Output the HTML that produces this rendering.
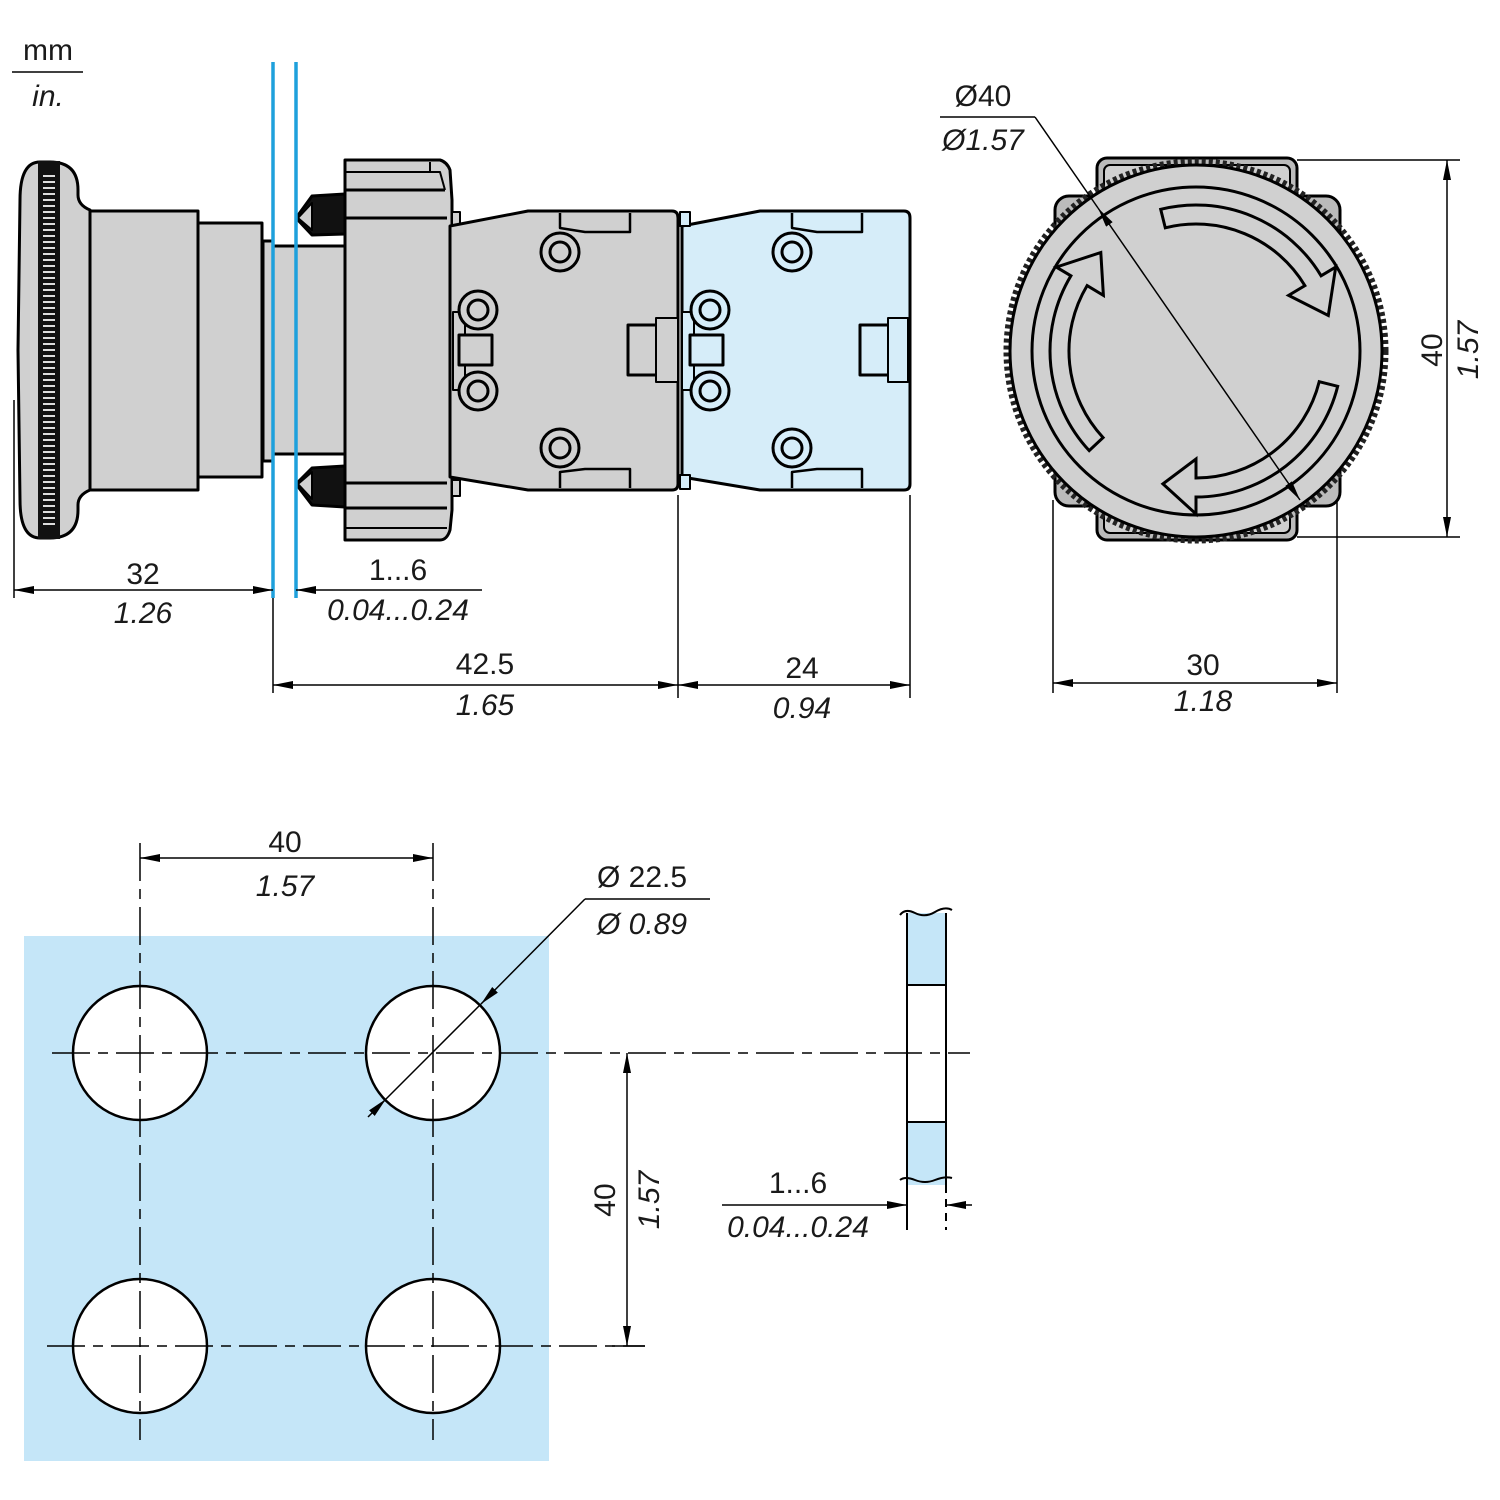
<!DOCTYPE html>
<html><head><meta charset="utf-8"><style>
html,body{margin:0;padding:0;background:#fff}
svg{display:block}
text{font-family:"Liberation Sans",sans-serif;font-size:30px;fill:#1a1a1a}
.i{font-style:italic}
</style></head><body>
<svg width="1500" height="1500" viewBox="0 0 1500 1500" xmlns="http://www.w3.org/2000/svg">
<defs>
<marker id="ar" viewBox="0 0 20 8" refX="20" refY="4" markerWidth="20" markerHeight="8" markerUnits="userSpaceOnUse" orient="auto-start-reverse"><path d="M0,0 L20,4 L0,8 Z" fill="#000"/></marker>
</defs>

<text x="48" y="60" text-anchor="middle">mm</text>
<line x1="12" y1="72" x2="83" y2="72" stroke="#000" stroke-width="1.5"/>
<text x="48" y="106" text-anchor="middle" class="i">in.</text>

<!-- SIDE VIEW -->
<g stroke="#000" stroke-width="3" fill="#d0d0d0" stroke-linejoin="round">
  <path d="M90,210 Q78,205 78,195 L78,190 Q78,162 50,162 L40,162 Q20,162 20,200 L18,350 L20,500 Q20,538 40,538 L50,538 Q78,538 78,510 L78,505 Q78,495 90,490 Z"/>
  <rect x="38" y="161" width="22" height="378" fill="#111" stroke="none"/>
  <line x1="49" y1="175" x2="49" y2="525" stroke="#ddd" stroke-width="12" stroke-dasharray="2 4"/>
  <rect x="90" y="211" width="108" height="279"/>
  <rect x="198" y="223" width="64" height="254"/>
  <rect x="263" y="241" width="10" height="220"/>
  <rect x="273" y="246" width="72" height="208"/>
  <path d="M345,194 L312,196 L296,218 L312,235 L345,234 Z" fill="#111"/>
  <path d="M345,466 L312,468 L296,484 L312,505 L345,507 Z" fill="#111"/>
  <path d="M312,203 L298,218 L312,230 Z" fill="#d0d0d0" stroke-width="2"/>
  <path d="M312,472 L298,484 L312,499 Z" fill="#d0d0d0" stroke-width="2"/>
  <path d="M345,160 L440,160 Q447,162 450,170 L452,200 L452,510 L450,530 Q447,540 440,540 L345,540 Z"/>
  <line x1="345" y1="172" x2="440" y2="172" stroke-width="2"/>
  <line x1="345" y1="190" x2="445" y2="190"/>
  <line x1="345" y1="218" x2="447" y2="218"/>
  <line x1="345" y1="483" x2="447" y2="483"/>
  <line x1="345" y1="508" x2="447" y2="508"/>
  <line x1="345" y1="528" x2="447" y2="528" stroke-width="2"/>
  <path d="M430,162 L430,172 L440,172 L445,190" fill="none" stroke-width="2"/>
  <rect x="452" y="212" width="8" height="16" stroke-width="2"/>
  <rect x="452" y="480" width="8" height="16" stroke-width="2"/>
  <path d="M450,226 L528,211 L672,211 Q678,211 678,218 L678,484 Q678,490 672,490 L528,490 L450,477 Z"/>
  <path d="M560,213 L560,228 L585,232 L630,232 L630,213" fill="none" stroke-width="2.5"/>
  <path d="M560,488 L560,472 L585,469 L630,469 L630,488" fill="none" stroke-width="2.5"/>
  <path d="M682,226 L760,211 L904,211 Q910,211 910,218 L910,484 Q910,490 904,490 L760,490 L682,477 Z" fill="#d6edf9"/>
  <path d="M792,213 L792,228 L817,232 L862,232 L862,213" fill="none" stroke-width="2.5"/>
  <path d="M792,488 L792,472 L817,469 L862,469 L862,488" fill="none" stroke-width="2.5"/>
  <rect x="680" y="212" width="10" height="14" fill="#d6edf9" stroke-width="2"/>
  <rect x="680" y="475" width="10" height="14" fill="#d6edf9" stroke-width="2"/>
  <rect x="453" y="312" width="12" height="78" stroke-width="2"/>
  <rect x="459" y="335" width="33" height="30" stroke-width="3"/>
  <rect x="628" y="325" width="50" height="50" stroke-width="3"/>
  <rect x="656" y="318" width="22" height="64" stroke-width="2"/>
  <rect x="682" y="312" width="12" height="78" fill="#d6edf9" stroke-width="2"/>
  <rect x="690" y="335" width="33" height="30" fill="#d6edf9" stroke-width="3"/>
  <rect x="860" y="325" width="48" height="50" fill="#d6edf9" stroke-width="3"/>
  <rect x="888" y="318" width="20" height="64" fill="#d6edf9" stroke-width="2"/>
</g>
<g stroke="#000" stroke-width="3" fill="#d0d0d0">
  <circle cx="560" cy="252" r="19"/><circle cx="560" cy="252" r="10"/>
  <circle cx="560" cy="448" r="19"/><circle cx="560" cy="448" r="10"/>
  <circle cx="478" cy="310" r="19"/><circle cx="478" cy="310" r="10"/>
  <circle cx="478" cy="391" r="19"/><circle cx="478" cy="391" r="10"/>
</g>
<g stroke="#000" stroke-width="3" fill="#d6edf9">
  <circle cx="792" cy="252" r="19"/><circle cx="792" cy="252" r="10"/>
  <circle cx="792" cy="448" r="19"/><circle cx="792" cy="448" r="10"/>
  <circle cx="710" cy="310" r="19"/><circle cx="710" cy="310" r="10"/>
  <circle cx="710" cy="391" r="19"/><circle cx="710" cy="391" r="10"/>
</g>
<line x1="273" y1="62" x2="273" y2="598" stroke="#1ea0dc" stroke-width="3.5"/>
<line x1="296" y1="62" x2="296" y2="598" stroke="#1ea0dc" stroke-width="3.5"/>

<g stroke="#000" stroke-width="1.5" fill="none">
  <line x1="14" y1="400" x2="14" y2="598"/>
  <line x1="14" y1="590" x2="273" y2="590" marker-start="url(#ar)" marker-end="url(#ar)"/>
  <line x1="296" y1="590" x2="482" y2="590" marker-start="url(#ar)"/>
  <line x1="273" y1="598" x2="273" y2="693"/>
  <line x1="678" y1="495" x2="678" y2="698"/>
  <line x1="910" y1="495" x2="910" y2="698"/>
  <line x1="273" y1="685" x2="678" y2="685" marker-start="url(#ar)" marker-end="url(#ar)"/>
  <line x1="678" y1="685" x2="910" y2="685" marker-start="url(#ar)" marker-end="url(#ar)"/>
</g>
<text x="143" y="584" text-anchor="middle">32</text>
<text x="143" y="623" text-anchor="middle" class="i">1.26</text>
<text x="398" y="580" text-anchor="middle">1...6</text>
<text x="398" y="620" text-anchor="middle" class="i">0.04...0.24</text>
<text x="485" y="674" text-anchor="middle">42.5</text>
<text x="485" y="715" text-anchor="middle" class="i">1.65</text>
<text x="802" y="678" text-anchor="middle">24</text>
<text x="802" y="718" text-anchor="middle" class="i">0.94</text>

<!-- FRONT VIEW -->
<g stroke="#000" stroke-width="3" fill="#d0d0d0">
  <rect x="1097" y="158" width="200" height="382" rx="10" fill="#bbb"/>
  <rect x="1104" y="165" width="186" height="368" rx="6" fill="#d0d0d0" stroke-width="2"/>
  <rect x="1055" y="196" width="285" height="310" rx="14" fill="#bbb"/>
  <circle cx="1196" cy="351" r="189" fill="none" stroke="#222" stroke-width="7" stroke-dasharray="4 3"/>
  <circle cx="1196" cy="351" r="186"/>
  <circle cx="1196" cy="351" r="164" fill="none"/>
  <path d="M1160.7,209.3 A146,146 0 0 1 1321.1,275.8 L1335.7,267.1 L1328.3,315.5 L1288.6,295.4 L1304.9,285.6 A127,127 0 0 0 1165.3,227.8 Z"/>
  <path d="M1337.7,386.3 A146,146 0 0 1 1196,497 L1196,514 L1162.9,483.9 L1196,459 L1196,478 A127,127 0 0 0 1319.2,381.7 Z"/>
  <path d="M1089.2,450.6 A146,146 0 0 1 1070.9,275.8 L1056.3,267.1 L1100.8,252.5 L1103.4,295.4 L1087.1,285.6 A127,127 0 0 0 1103.1,437.6 Z"/>
</g>
<g stroke="#000" stroke-width="1.5" fill="none">
  <line x1="940" y1="117" x2="1035" y2="117"/>
  <line x1="1035" y1="117" x2="1098" y2="208"/>
  <line x1="1098" y1="208" x2="1300" y2="500" marker-start="url(#ar)" marker-end="url(#ar)"/>
  <line x1="1297" y1="160" x2="1460" y2="160"/>
  <line x1="1297" y1="537" x2="1460" y2="537"/>
  <line x1="1447" y1="160" x2="1447" y2="537" marker-start="url(#ar)" marker-end="url(#ar)"/>
  <line x1="1053" y1="500" x2="1053" y2="693"/>
  <line x1="1337" y1="500" x2="1337" y2="693"/>
  <line x1="1053" y1="683" x2="1337" y2="683" marker-start="url(#ar)" marker-end="url(#ar)"/>
</g>
<text x="983" y="106" text-anchor="middle">Ø40</text>
<text x="983" y="150" text-anchor="middle" class="i">Ø1.57</text>
<text transform="translate(1442,350) rotate(-90)" text-anchor="middle">40</text>
<text transform="translate(1478,350) rotate(-90)" text-anchor="middle" class="i">1.57</text>
<text x="1203" y="675" text-anchor="middle">30</text>
<text x="1203" y="711" text-anchor="middle" class="i">1.18</text>

<!-- CUTOUT -->
<rect x="24" y="936" width="525" height="525" fill="#c5e6f8"/>
<g stroke="#000" stroke-width="2.5" fill="#fff">
  <circle cx="140" cy="1053" r="67"/><circle cx="433" cy="1053" r="67"/>
  <circle cx="140" cy="1346" r="67"/><circle cx="433" cy="1346" r="67"/>
</g>
<g stroke="#000" stroke-width="1.5" fill="none" stroke-dasharray="38 8 10 8">
  <line x1="52" y1="1053" x2="970" y2="1053"/>
  <line x1="47" y1="1346" x2="645" y2="1346"/>
  <line x1="140" y1="843" x2="140" y2="1440"/>
  <line x1="433" y1="843" x2="433" y2="1440"/>
</g>
<g stroke="#000" stroke-width="1.5" fill="none">
  <line x1="140" y1="858" x2="433" y2="858" marker-start="url(#ar)" marker-end="url(#ar)"/>
  <line x1="585" y1="899" x2="710" y2="899"/>
  <line x1="585" y1="899" x2="481" y2="1004" marker-end="url(#ar)"/>
  <line x1="481" y1="1004" x2="385" y2="1100"/>
  <line x1="368" y1="1117" x2="386" y2="1099" marker-end="url(#ar)"/>
  <line x1="627" y1="1053" x2="627" y2="1346" marker-start="url(#ar)" marker-end="url(#ar)"/>
  <line x1="612" y1="1346" x2="645" y2="1346"/>
</g>
<text x="285" y="852" text-anchor="middle">40</text>
<text x="285" y="896" text-anchor="middle" class="i">1.57</text>
<text x="642" y="887" text-anchor="middle">Ø 22.5</text>
<text x="642" y="934" text-anchor="middle" class="i">Ø 0.89</text>
<text transform="translate(615,1200) rotate(-90)" text-anchor="middle">40</text>
<text transform="translate(659,1200) rotate(-90)" text-anchor="middle" class="i">1.57</text>

<rect x="907" y="913" width="39" height="72" fill="#c5e6f8"/>
<rect x="907" y="1122" width="39" height="63" fill="#c5e6f8"/>
<g stroke="#000" stroke-width="2" fill="none">
  <line x1="907" y1="913" x2="907" y2="1230"/>
  <line x1="946" y1="913" x2="946" y2="1185"/>
  <line x1="946" y1="1185" x2="946" y2="1230" stroke-dasharray="8 6"/>
  <line x1="907" y1="985" x2="946" y2="985"/>
  <line x1="907" y1="1122" x2="946" y2="1122"/>
  <path d="M900,915 Q905,908 915,913 T935,912 T952,910"/>
  <path d="M900,1180 Q905,1176 915,1180 T935,1180 T952,1178"/>
</g>
<g stroke="#000" stroke-width="1.5" fill="none">
  <line x1="722" y1="1205" x2="907" y2="1205" marker-end="url(#ar)"/>
  <line x1="972" y1="1205" x2="946" y2="1205" marker-end="url(#ar)"/>
</g>
<text x="798" y="1193" text-anchor="middle">1...6</text>
<text x="798" y="1237" text-anchor="middle" class="i">0.04...0.24</text>
</svg>
</body></html>
